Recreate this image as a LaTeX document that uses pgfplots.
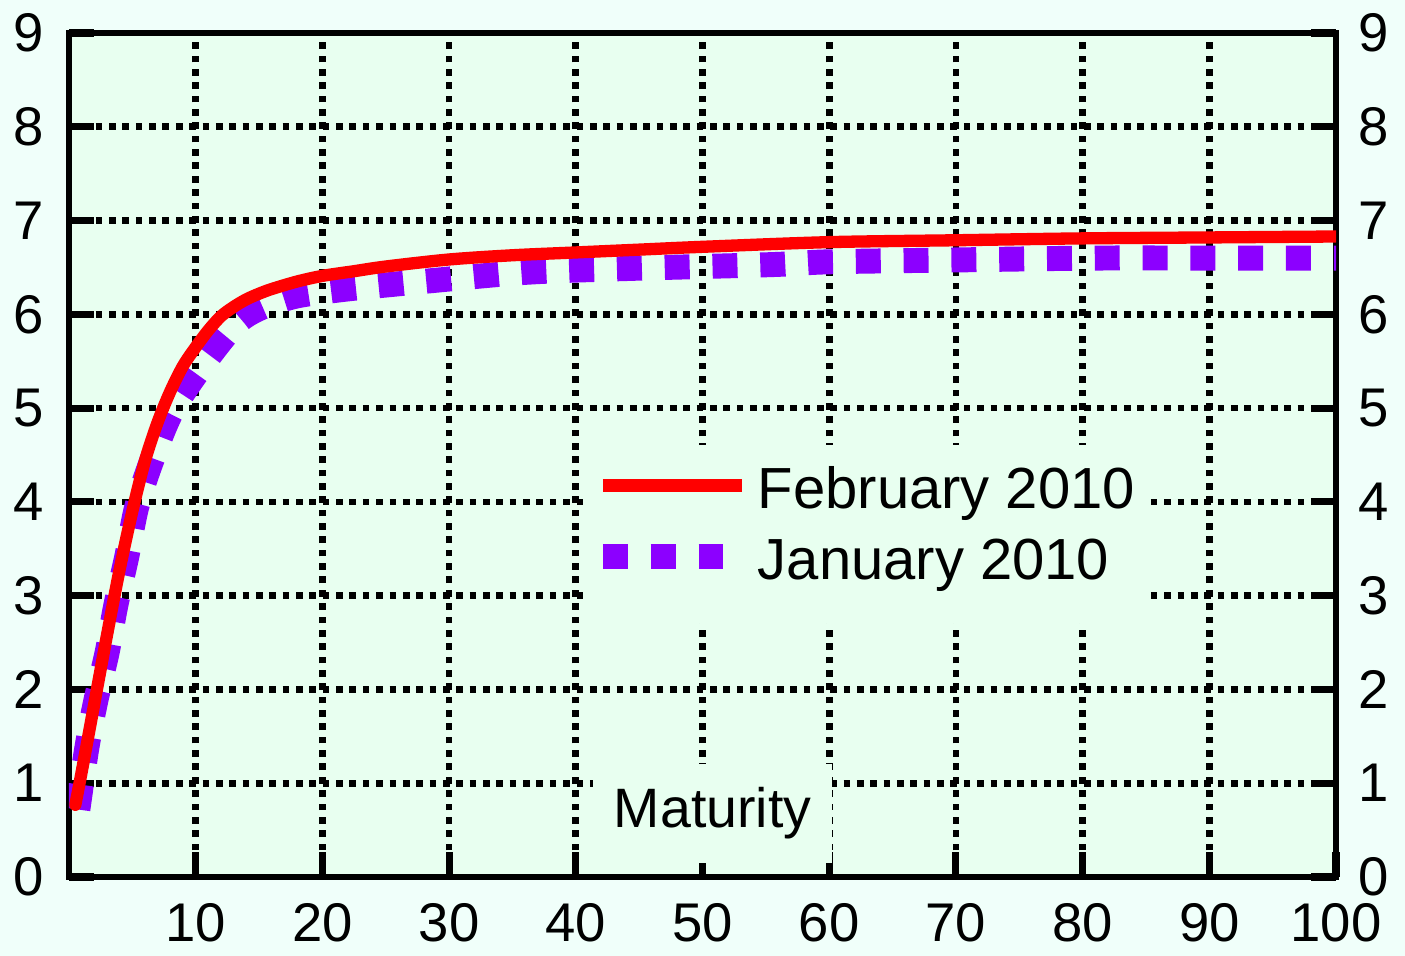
\documentclass[border=0pt]{standalone}
\usepackage{fontspec}
\setmainfont{Liberation Sans}
\usepackage{pgfplots}
\pgfplotsset{compat=1.18}
\definecolor{outerbg}{RGB}{240,255,250}
\definecolor{plotbg}{RGB}{232,255,240}
\definecolor{febred}{RGB}{255,0,0}
\definecolor{janpurple}{RGB}{140,0,255}
\newcommand{\tickfont}{\fontsize{15.5}{18}\selectfont}
\pgfplotsset{
  redleg/.style={legend image code/.code={\path[draw=none,fill=none] (0cm,-1mm) rectangle (1.39cm,1mm); \draw[##1, line cap=butt, overlay] (0cm,1.3mm) -- (1.39cm,1.3mm);}},
  purpleleg/.style={legend image code/.code={\path[draw=none,fill=none] (0cm,-1mm) rectangle (1.39cm,1mm); \draw[##1, overlay] (0cm,1.3mm) -- (1.21cm,1.3mm);}},
}
\begin{document}
\begin{tikzpicture}
\path[use as bounding box, fill=outerbg] (-0.69cm,-0.79cm) rectangle (13.36cm,8.77cm);
\begin{axis}[
  at={(0,0)}, anchor=south west,
  scale only axis, width=12.67cm, height=8.44cm,
  xmin=0, xmax=100, ymin=0, ymax=9,
  xtick={10,20,...,100}, ytick={0,1,...,9},
  axis background/.style={fill=plotbg},
  axis line style={line width=1.8pt, black},
  tick style={line width=2pt, black},
  tick align=inside, major tick length=2.5mm,
  xtick pos=left, ytick pos=both,
  xticklabel pos=left, yticklabel pos=left,
  grid=major,
  major grid style={black, line width=1.9pt, dash pattern=on 1.9pt off 1.9pt},
  xticklabel style={anchor=north, inner sep=0pt, yshift=-2.6mm, font=\tickfont},
  yticklabel style={anchor=east, inner sep=0pt, xshift=-2.4mm, font=\tickfont},
  /pgf/number format/assume math mode=true,
  legend style={at={(axis description cs:0.409,0.513)}, anchor=north west,
    fill=plotbg, draw=none, inner xsep=1.5mm, inner ysep=2mm,
    font=\fontsize{16.5}{20}\selectfont,
    nodes={inner sep=0pt, text height=12.4pt, text depth=6.9pt},
    /tikz/column sep=1.6mm, /tikz/row sep=0.3mm},
  legend cell align=left, reverse legend,
]
\addplot[color=janpurple, line width=7.1pt, dash pattern=on 7.1pt off 6.5pt, smooth, purpleleg]
  coordinates {
  (0.7,0.72) (1.4,1.37) (2.1,1.87) (3.0,2.39) (3.7,2.9) (4.55,3.41) (5.35,3.95)
  (6.5,4.43) (8.1,4.96) (10.5,5.45) (13.6,5.95) (17.2,6.17) (21.3,6.26)
  (28.7,6.36) (36.3,6.45) (44.4,6.49) (55.4,6.53) (60,6.56) (70,6.58)
  (81,6.60) (90,6.60) (100,6.60)
  };
\addlegendentry{January 2010}
\addplot[color=febred, line width=3.5pt, line cap=round, smooth, redleg]
  coordinates {
  (0.5,0.77) (1,1.12) (2,1.85) (3,2.58) (4,3.28) (5,3.9) (6,4.44) (7,4.85)
  (8,5.18) (9,5.45) (10,5.65) (11,5.83) (12,5.98) (13,6.08) (14,6.16) (15,6.22)
  (16,6.27) (18,6.35) (20,6.41) (22.5,6.46) (25,6.51) (30,6.585) (35,6.63)
  (40,6.66) (45,6.69) (50,6.72) (60,6.77) (70,6.79) (80,6.81) (90,6.82) (100,6.83)
  };
\addlegendentry{February 2010}
\node[fill=plotbg, inner xsep=2.1mm, inner ysep=1.9mm, text height=12.6pt, text depth=4.7pt,
  font=\fontsize{15.8}{19}\selectfont, anchor=base] at (axis cs:50.8,0.533) {Maturity};
\end{axis}
\begin{axis}[
  at={(0,0)}, anchor=south west,
  scale only axis, width=12.67cm, height=8.44cm,
  xmin=0, xmax=100, ymin=0, ymax=9,
  hide x axis, axis y line*=right,
  y axis line style={draw=none},
  ytick={0,1,...,9}, major tick length=0pt, tick style={draw=none},
  yticklabel style={anchor=west, inner sep=0pt, xshift=2.2mm, font=\tickfont},
  /pgf/number format/assume math mode=true,
]
\end{axis}
\end{tikzpicture}
\end{document}
